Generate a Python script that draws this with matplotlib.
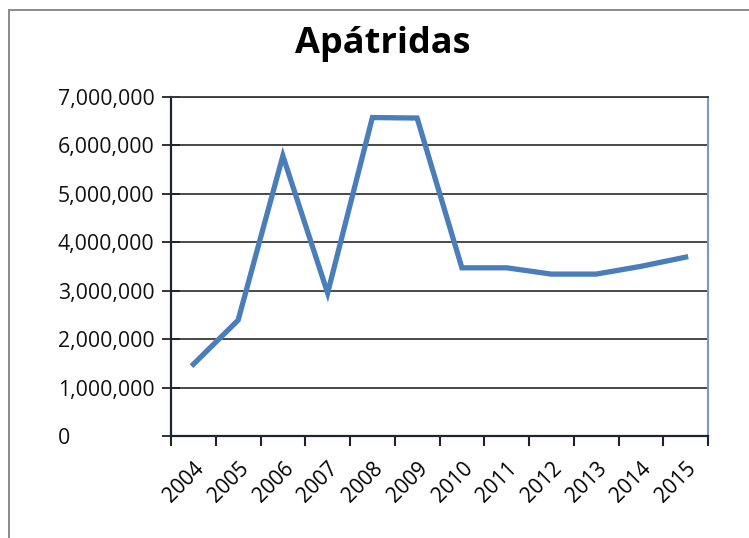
import matplotlib.pyplot as plt
import matplotlib.transforms as mtransforms
from matplotlib.patches import Rectangle
import numpy as np

plt.rcParams['font.family'] = ['Open Sans', 'DejaVu Sans']

years = ['2004', '2005', '2006', '2007', '2008', '2009',
         '2010', '2011', '2012', '2013', '2014', '2015']
stateless = [1480000, 2390000, 5780000, 2950000, 6570000, 6560000,
             3470000, 3470000, 3340000, 3340000, 3500000, 3690000]
y_ticks = [0, 1000000, 2000000, 3000000, 4000000, 5000000, 6000000, 7000000]

fig = plt.figure(figsize=(7.49, 5.38), dpi=100)
ax = fig.add_axes([171 / 749, 1 - 436 / 538, (708 - 171) / 749, (436 - 96.7) / 538])

x = np.arange(len(years))
ax.plot(x, stateless, color='#4a7ebb', lw=3.8, solid_joinstyle='miter', zorder=3)

ax.set_xlim(-0.5, len(years) - 0.5)
ax.set_ylim(0, 7000000)
ax.set_yticks(y_ticks)
ax.set_yticklabels([])
ax.grid(axis='y', color='#3a3a3a', lw=1.3)
ax.set_axisbelow(True)

# y labels are left aligned in the original (the "0" sits under the first digit)
lab_tr = mtransforms.blended_transform_factory(fig.transFigure, ax.transData)
for v in y_ticks:
    ax.text(58 / 749, v, f'{v:,}', transform=lab_tr, ha='left', va='center_baseline',
            fontsize=15.3, color='#111111')

ax.set_xticks(x)
ax.set_xticklabels(years, rotation=45, ha='right', rotation_mode='anchor')
ax.set_xticks(np.arange(-0.5, len(years)), minor=True)
ax.tick_params(axis='x', which='major', length=0, pad=16, labelsize=15)
ax.tick_params(axis='x', which='minor', length=7, width=1.5, direction='out', color='#222222')
ax.tick_params(axis='y', length=13, width=1.3, direction='inout', color='#222222')

for s in ['left', 'bottom']:
    ax.spines[s].set_color('#1c2533')
    ax.spines[s].set_linewidth(1.6)
ax.spines['top'].set_color('#3a3a3a')
ax.spines['top'].set_linewidth(1.3)
ax.spines['right'].set_color('#7b97c8')
ax.spines['right'].set_linewidth(1.5)

fig.text(383 / 749, 1 - 44 / 538, 'Apátridas', ha='center', va='center',
         fontsize=26, fontweight='bold')

fig.patches.append(Rectangle((9 / 749, -0.1), 1.2, 1 + 0.1 - 10 / 538,
                             transform=fig.transFigure, fill=False,
                             edgecolor='#8a8a8a', lw=1.4))

fig.savefig('out.png', dpi=100)
